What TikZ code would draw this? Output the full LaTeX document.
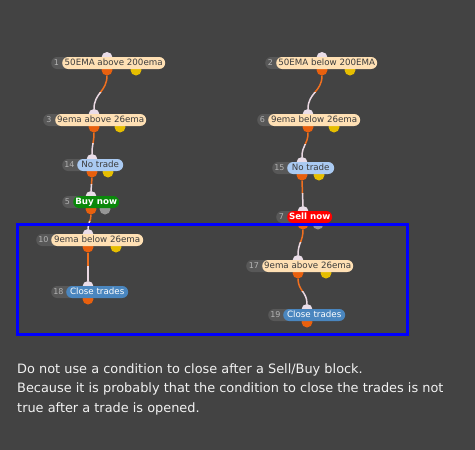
\documentclass[tikz,border=0pt]{standalone}
\usepackage{fontspec}
\setmainfont{DejaVu Sans}
\usetikzlibrary{calc}
\definecolor{bg}{HTML}{434343}
\definecolor{numc}{HTML}{585858}
\definecolor{numtc}{HTML}{B4B4B4}
\definecolor{peachc}{HTML}{FFE0B4}
\definecolor{labtxt}{HTML}{3C3C3C}
\definecolor{ntc}{HTML}{AACAF2}
\definecolor{buyc}{HTML}{0A880A}
\definecolor{sellc}{HTML}{FF0000}
\definecolor{closec}{HTML}{4A86BF}
\definecolor{portW}{HTML}{EADDE8}
\definecolor{portO}{HTML}{E8600E}
\definecolor{portY}{HTML}{E6BE00}
\definecolor{portG}{HTML}{969696}
\definecolor{wireOc}{HTML}{F07020}
\definecolor{wireWc}{HTML}{EAD8E2}
\definecolor{frame}{HTML}{0000FF}
\definecolor{notec}{HTML}{F2F2F2}
\tikzset{
  port/.style={circle, inner sep=0pt, minimum size=11pt},
  pW/.style={port, fill=portW},
  pO/.style={port, fill=portO},
  pY/.style={port, fill=portY},
  pG/.style={port, fill=portG},
  numpill/.style={fill=numc, rounded corners=6pt, inner sep=0pt, minimum height=12pt, anchor=west},
  numtxt/.style={text=numtc, inner sep=0pt, font=\fontsize{8}{9}\selectfont},
  lab/.style={rounded corners=6pt, inner sep=0pt, minimum height=12pt, text height=6.3pt, text depth=1.8pt, font=\fontsize{8.7}{9}\selectfont, anchor=west},
  peach/.style={lab, fill=peachc, text=labtxt},
  notrade/.style={lab, fill=ntc, text=labtxt},
  buy/.style={lab, fill=buyc, text=white, font=\fontsize{8.7}{9}\selectfont\bfseries},
  sell/.style={lab, fill=sellc, text=white, font=\fontsize{8.7}{9}\selectfont\bfseries},
  closeb/.style={lab, fill=closec, text=white},
  wireO/.style={draw=wireOc, line width=1.5pt},
  wireW/.style={draw=wireWc, line width=1.5pt},
  note/.style={text=notec, inner sep=0pt, anchor=base west, font=\fontsize{12.9}{14}\selectfont}
}
% #1 name, #2 number, #3 number pill left, #4 label left, #5 label right, #6 y centre, #7 style, #8 text
\newcommand\blk[8]{%
  \node[numpill, minimum width={#4-#3+10}] (#1n) at (#3,#6) {};
  \node[numtxt] (#1t) at ({(#3+#4)/2},#6) {#2};
  \node[#7, minimum width={#5-#4}] (#1) at (#4,#6) {#8};
}
% #1 from port, #2 to port, #3 control distance
\newcommand\wire[3]{%
  \begin{scope}
    \clip ($(#1.south)+(-40,-2)$) rectangle ($(#1.south)!0.5!(#2.north)+(40,0)$);
    \draw[wireO] (#1.south) .. controls +(0,#3) and +(0,-#3) .. (#2.north);
  \end{scope}
  \begin{scope}
    \clip ($(#1.south)!0.5!(#2.north)+(-40,0)$) rectangle ($(#2.north)+(40,2)$);
    \draw[wireW] (#1.south) .. controls +(0,#3) and +(0,-#3) .. (#2.north);
  \end{scope}
}
\begin{document}
\begin{tikzpicture}[x=1pt, y=-1pt]
\fill[bg] (0,0) rectangle (475,450);
\useasboundingbox (0,0) rectangle (475,450);

% ports (left column)
\node[pW] (b1w) at (107,57.5) {};  \node[pO] (b1o) at (107,70) {};  \node[pY] (b1y) at (136,70) {};
\node[pW] (b3w) at (94,114.5) {};  \node[pO] (b3o) at (94,127) {};  \node[pY] (b3y) at (120,127) {};
\node[pW] (b14w) at (92,159.5) {}; \node[pO] (b14o) at (92,172) {}; \node[pY] (b14y) at (108,172) {};
\node[pW] (b5w) at (91,196.5) {};  \node[pO] (b5o) at (91,209) {};  \node[pG] (b5g) at (105,209) {};
\node[pW] (b10w) at (88,234.5) {}; \node[pO] (b10o) at (88,247) {}; \node[pY] (b10y) at (116,247) {};
\node[pW] (b18w) at (88,286.5) {}; \node[pO] (b18o) at (88,299) {};
% ports (right column)
\node[pW] (b2w) at (322,57.5) {};  \node[pO] (b2o) at (322,70) {};  \node[pY] (b2y) at (350,70) {};
\node[pW] (b6w) at (308,114.5) {}; \node[pO] (b6o) at (308,127) {}; \node[pY] (b6y) at (334,127) {};
\node[pW] (b15w) at (302,162.5) {};\node[pO] (b15o) at (302,175) {};\node[pY] (b15y) at (319,175) {};
\node[pW] (b7w) at (303,211.5) {}; \node[pO] (b7o) at (303,224) {}; \node[pG] (b7g) at (318,224) {};
\node[pW] (b17w) at (298,260.5) {};\node[pO] (b17o) at (298,273) {};\node[pY] (b17y) at (326,273) {};
\node[pW] (b19w) at (307,309.5) {};\node[pO] (b19o) at (307,322) {};

% connectors
\wire{b1o}{b3w}{16}
\wire{b3o}{b14w}{10}
\wire{b14o}{b5w}{7}
\wire{b5o}{b10w}{7}
\wire{b10o}{b18w}{10}
\wire{b2o}{b6w}{16}
\wire{b6o}{b15w}{12}
\wire{b15o}{b7w}{12}
\wire{b7o}{b17w}{12}
\wire{b17o}{b19w}{12}

% blocks
\blk{b1}{1}{51}{62}{165}{63}{peach}{50EMA above 200ema}
\blk{b3}{3}{43}{55}{146}{120}{peach}{9ema above 26ema}
\blk{b14}{14}{62}{77}{123}{165}{notrade}{No trade}
\blk{b5}{5}{62}{73}{119}{202}{buy}{Buy now}
\blk{b10}{10}{36}{51}{143}{240}{peach}{9ema below 26ema}
\blk{b18}{18}{51}{66}{128}{292}{closeb}{Close trades}
\blk{b2}{2}{265}{276}{377}{63}{peach}{50EMA below 200EMA}
\blk{b6}{6}{257}{268}{360}{120}{peach}{9ema below 26ema}
\blk{b15}{15}{272}{287}{334}{168}{notrade}{No trade}
\blk{b7}{7}{276}{287}{332}{217}{sell}{Sell now}
\blk{b17}{17}{246}{262}{353}{266}{peach}{9ema above 26ema}
\blk{b19}{19}{268}{283}{345}{315}{closeb}{Close trades}

% blue frame
\draw[frame, line width=3pt] (17.5,224.5) rectangle (407.5,334.5);

% note
\node[note] (l1) at (17,373) {Do not use a condition to close after a Sell/Buy block.};
\node[note] (l2) at (17,392.5) {Because it is probably that the condition to close the trades is not};
\node[note] (l3) at (17,412) {true after a trade is opened.};
\end{tikzpicture}
\end{document}
